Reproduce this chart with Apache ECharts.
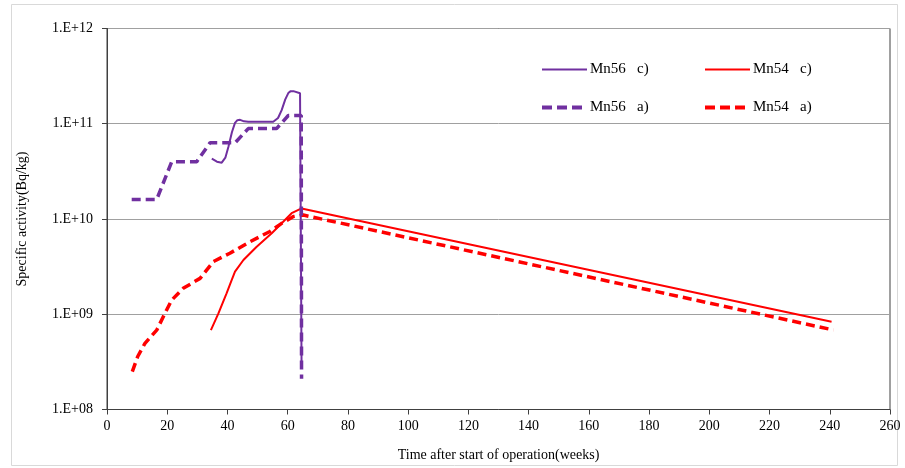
<!DOCTYPE html>
<html><head><meta charset="utf-8">
<script src="https://cdn.jsdelivr.net/npm/echarts@6/dist/echarts.min.js"></script>
<style>html,body{margin:0;padding:0;background:#fff}#c{width:905px;height:468px}</style>
</head><body><div id="c"></div>
<script>
// Data
const xTicks = [0,20,40,60,80,100,120,140,160,180,200,220,240,260];
const yTickLabels = ['1.E+08','1.E+09','1.E+10','1.E+11','1.E+12'];

const mn56cWeeks  = [34.8, 36.5, 38.1, 39.3, 40.3, 41.5, 42.5, 43.3, 44.2, 45.5, 46.9, 55.2, 56.8, 58.0, 59.2, 60.2, 61.0, 61.9, 64.1, 64.6];
const mn56cValues = [4.3e10, 4.0e10, 3.9e10, 4.4e10, 5.7e10, 8.2e10, 1.02e11, 1.09e11, 1.1e11, 1.06e11, 1.05e11, 1.05e11, 1.15e11, 1.39e11, 1.8e11, 2.1e11, 2.2e11, 2.2e11, 2.09e11, 3.1e8];

const mn56aWeeks  = [8.2, 16.5, 21.5, 29.8, 34.2, 42.5, 46.9, 56.3, 60.2, 64.5, 64.6];
const mn56aValues = [1.6e10, 1.6e10, 4.0e10, 4.0e10, 6.3e10, 6.3e10, 8.9e10, 8.9e10, 1.22e11, 1.22e11, 2.1e8];

const mn54cWeeks  = [34.5, 37.0, 39.7, 41.2, 42.5, 45.3, 49.7, 54.7, 58.5, 61.3, 64.6, 240.6];
const mn54cValues = [6.8e8, 1.02e9, 1.66e9, 2.2e9, 2.8e9, 3.71e9, 5.12e9, 7.08e9, 9.37e9, 1.15e10, 1.29e10, 8.36e8];

const mn54aWeeks  = [8.4, 10.2, 12.6, 16.5, 19.8, 21.5, 25.3, 30.9, 35.3, 40.8, 47.5, 54.1, 58.0, 61.9, 65.2, 241.2];
const mn54aValues = [2.5e8, 3.6e8, 4.95e8, 6.8e8, 1.11e9, 1.41e9, 1.87e9, 2.38e9, 3.57e9, 4.37e9, 5.78e9, 7.4e9, 9.0e9, 1.06e10, 1.10e10, 6.84e8];

const names = ['Mn56   c)', 'Mn56   a)', 'Mn54   c)', 'Mn54   a)'];
const PURPLE = '#7030a0', RED = '#ff0000';
const FONT = '"Liberation Serif", "DejaVu Serif", serif';

function pairs(w, v){ return w.map((x,i)=>[x, v[i]]); }

const solidLeg = { width: 2, type: 'solid' };
const dashLeg = { width: 4, type: [10, 5] };
const legendCommon = { orient: 'vertical', top: 57, itemWidth: 45, itemHeight: 14, itemGap: 23,
  itemStyle: { opacity: 0 }, textStyle: { fontFamily: FONT, fontSize: 15, color: '#000', padding: [0,0,0,-2] } };

const chart = echarts.init(document.getElementById('c'));
chart.setOption({
  animation: false,
  backgroundColor: '#fff',
  textStyle: { fontFamily: FONT },
  graphic: [{
    type: 'rect', shape: { x: 11.5, y: 4.5, width: 886, height: 461 },
    style: { fill: 'none', stroke: '#d9d9d9', lineWidth: 1 }, silent: true, z: -1
  }],
  grid: { left: 107, right: 15, top: 28.5, bottom: 58.5, show: true, borderColor: '#404040', borderWidth: 1, backgroundColor: 'transparent' },
  legend: [
    Object.assign({ left: 535, data: [{ name: names[0], lineStyle: solidLeg }, { name: names[1], lineStyle: dashLeg }] }, legendCommon),
    Object.assign({ left: 698, data: [{ name: names[2], lineStyle: solidLeg }, { name: names[3], lineStyle: dashLeg }] }, legendCommon)
  ],
  xAxis: {
    type: 'value', min: 0, max: 260, interval: 20,
    name: 'Time after start of operation(weeks)', nameLocation: 'middle', nameGap: 39,
    nameTextStyle: { fontFamily: FONT, fontSize: 14, color: '#000' },
    axisLine: { lineStyle: { color: '#404040' } },
    axisTick: { show: true, length: 5, inside: false, lineStyle: { color: '#404040' } },
    axisLabel: { fontFamily: FONT, fontSize: 14, color: '#000', margin: 10 },
    splitLine: { show: false }
  },
  yAxis: {
    type: 'log', logBase: 10, min: 1e8, max: 1e12,
    name: 'Specific activity(Bq/kg)', nameLocation: 'middle', nameGap: 78, nameRotate: 90,
    nameTextStyle: { fontFamily: FONT, fontSize: 14, color: '#000' },
    axisLine: { show: true, lineStyle: { color: '#404040' } },
    axisTick: { show: true, length: 5, lineStyle: { color: '#404040' } },
    axisLabel: { fontFamily: FONT, fontSize: 14, color: '#000', margin: 14,
      formatter: v => { const e = Math.round(Math.log10(v)); return yTickLabels[e - 8] || ''; } },
    splitLine: { show: true, lineStyle: { color: '#a0a0a0', width: 1 } }
  },
  series: [
    { name: names[0], type: 'line', data: pairs(mn56cWeeks, mn56cValues), showSymbol: false, symbol: 'none', smooth: false,
      lineStyle: { color: PURPLE, width: 2 }, itemStyle: { color: PURPLE }, z: 4 },
    { name: names[1], type: 'line', data: pairs(mn56aWeeks, mn56aValues), showSymbol: false, symbol: 'none', smooth: false,
      lineStyle: { color: PURPLE, width: 3.5, type: [9, 5] }, itemStyle: { color: PURPLE }, z: 3 },
    { name: names[2], type: 'line', data: pairs(mn54cWeeks, mn54cValues), showSymbol: false, symbol: 'none', smooth: false,
      lineStyle: { color: RED, width: 2 }, itemStyle: { color: RED }, z: 2 },
    { name: names[3], type: 'line', data: pairs(mn54aWeeks, mn54aValues), showSymbol: false, symbol: 'none', smooth: false,
      lineStyle: { color: RED, width: 3.5, type: [9, 5] }, itemStyle: { color: RED }, z: 1 }
  ]
});
</script></body></html>
